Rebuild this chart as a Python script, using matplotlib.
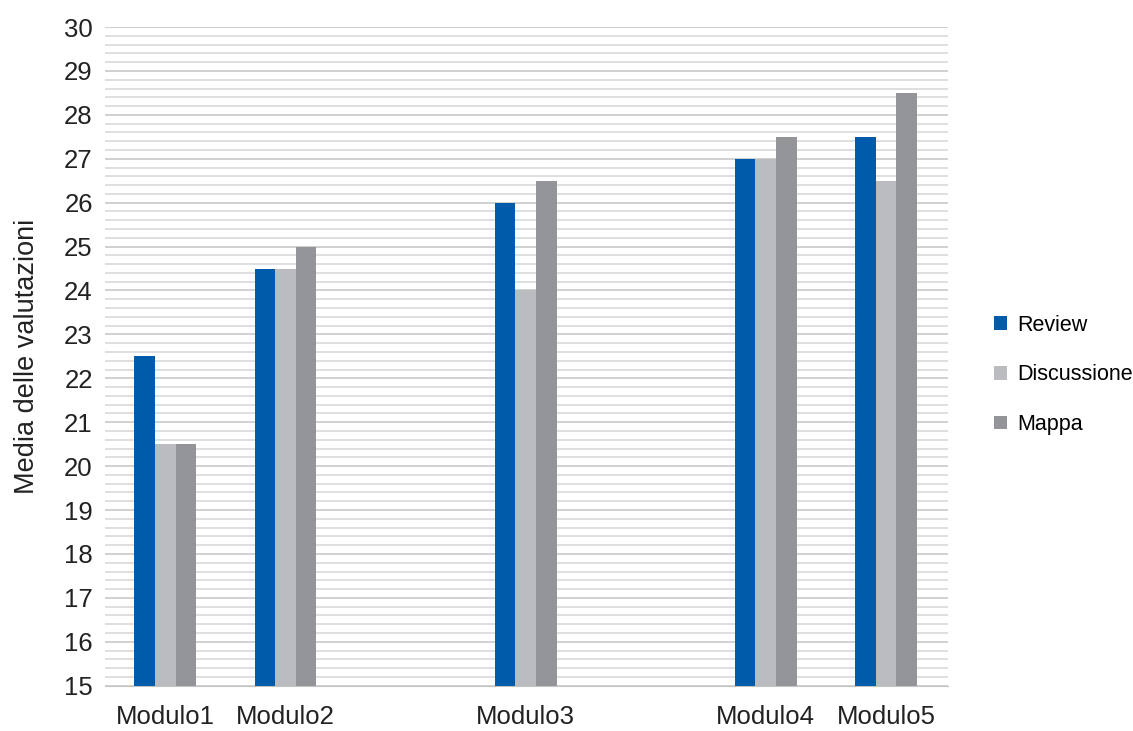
import numpy as np
import matplotlib.pyplot as plt
from matplotlib.ticker import MultipleLocator

# data
moduli = ["Modulo1", "Modulo2", "Modulo3", "Modulo4", "Modulo5"]
posizioni = [1, 2, 4, 6, 7]
review = [22.5, 24.5, 26, 27, 27.5]
discussione = [20.5, 24.5, 24, 27, 26.5]
mappa = [20.5, 25, 26.5, 27.5, 28.5]

plt.rcParams['font.family'] = ['Liberation Sans', 'DejaVu Sans']

fig = plt.figure(figsize=(11.33, 7.31), dpi=100)
ax = fig.add_axes([0.093, 0.062, 0.744, 0.901])

x = np.array(posizioni, dtype=float)
w = 0.172
ax.bar(x - w, np.array(review) - 15, w, bottom=15, color="#005BAA", label="Review", zorder=3)
ax.bar(x, np.array(discussione) - 15, w, bottom=15, color="#BBBCC0", label="Discussione", zorder=3)
ax.bar(x + w, np.array(mappa) - 15, w, bottom=15, color="#939598", label="Mappa", zorder=3)

ax.set_ylim(15, 30)
ax.set_xlim(0.5, 7.52)
ax.yaxis.set_major_locator(MultipleLocator(1))
ax.yaxis.set_minor_locator(MultipleLocator(0.2))
ax.grid(axis="y", which="major", color="#c4c4c4", lw=1.1, zorder=0)
ax.grid(axis="y", which="minor", color="#d6d6d6", lw=1.1, zorder=0)
ax.set_xticks(posizioni)
ax.set_xticklabels(moduli)
ax.tick_params(axis="both", which="both", length=0, labelsize=18.5, colors="#222222")
ax.tick_params(axis="x", pad=14)
ax.tick_params(axis="y", pad=9)
for s in ["top", "right", "left"]:
    ax.spines[s].set_visible(False)
ax.spines["bottom"].set_color("#c4c4c4")
ax.set_ylabel("Media delle valutazioni", fontsize=19.5, color="#222222")
ax.yaxis.set_label_coords(-0.077, 0.5)

ax.legend(loc="center left", bbox_to_anchor=(1.031, 0.472), frameon=False, fontsize=15.5,
          handlelength=0.6, handleheight=0.6, handletextpad=0.5, labelspacing=1.33)

fig.savefig("out.png", dpi=100)
